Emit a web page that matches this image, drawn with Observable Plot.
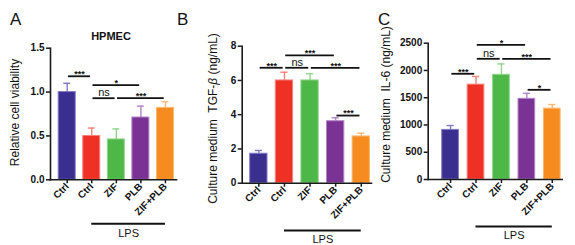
<!DOCTYPE html>
<html><head><meta charset="utf-8">
<script src="https://cdn.jsdelivr.net/npm/d3@7"></script>
<script src="https://cdn.jsdelivr.net/npm/@observablehq/plot@0.6"></script>
<style>
html,body{margin:0;padding:0;background:#fff;}
#wrap{position:relative;width:575px;height:245px;overflow:hidden;font-family:"Liberation Sans",Arial,sans-serif;}
#wrap > svg{position:absolute;left:0;top:0;}
</style></head><body><div id="wrap"></div>
<script>
// ---- data ----
const categories = ["Ctrl", "LPS+Ctrl", "LPS+ZIF", "LPS+PLB", "LPS+ZIF+PLB"];
const tickLabels = ["Ctrl", "Ctrl", "ZIF", "PLB", "ZIF+PLB"];
const lpsGroups = ["LPS+Ctrl", "LPS+ZIF", "LPS+PLB", "LPS+ZIF+PLB"];
const lpsLabel = "LPS";

const viabilityMean  = [1.00, 0.50, 0.46, 0.71, 0.82];
const viabilityUpper = [1.10, 0.59, 0.58, 0.84, 0.89];
const viabilityTicks = [0, 0.5, 1.0, 1.5];

const tgfMean  = [1.72, 6.00, 6.00, 3.62, 2.73];
const tgfUpper = [1.91, 6.48, 6.39, 3.82, 2.92];
const tgfTicks = [0, 2, 4, 6, 8];

const il6Mean  = [910, 1740, 1920, 1480, 1300];
const il6Upper = [990, 1890, 2120, 1580, 1375];
const il6Ticks = [0, 500, 1000, 1500, 2000, 2500];

const sigA = [
  {from: "Ctrl", to: "LPS+Ctrl", level: 1.18, label: "***"},
  {from: "LPS+Ctrl", to: "LPS+PLB", level: 1.08, label: "*"},
  {from: "LPS+Ctrl", to: "LPS+ZIF", level: 0.93, label: "ns"},
  {from: "LPS+ZIF", to: "LPS+ZIF+PLB", level: 0.93, label: "***"}
];
const sigB = [
  {from: "Ctrl", to: "LPS+Ctrl", level: 6.74, label: "***"},
  {from: "LPS+Ctrl", to: "LPS+ZIF", level: 6.74, label: "ns"},
  {from: "LPS+Ctrl", to: "LPS+PLB", level: 7.46, label: "***"},
  {from: "LPS+ZIF", to: "LPS+ZIF+PLB", level: 6.74, label: "***"},
  {from: "LPS+PLB", to: "LPS+ZIF+PLB", level: 3.95, label: "***"}
];
const sigC = [
  {from: "Ctrl", to: "LPS+Ctrl", level: 1939, label: "***"},
  {from: "LPS+Ctrl", to: "LPS+ZIF", level: 2214, label: "ns"},
  {from: "LPS+Ctrl", to: "LPS+PLB", level: 2471, label: "*"},
  {from: "LPS+ZIF", to: "LPS+ZIF+PLB", level: 2214, label: "***"},
  {from: "LPS+PLB", to: "LPS+ZIF+PLB", level: 1645, label: "*"}
];

const panelLetters = ["A", "B", "C"];
const titleA = "HPMEC";
const yLabelA = "Relative cell viability";
const yLabelB = ["Culture medium  TGF-", "\u03B2", " (ng/mL)"];
const yLabelC = "Culture medium  IL-6 (ng/mL)";

// ---- styles ----
const barFill = ["#3A2E8F", "#EE3124", "#4DB748", "#7A3394", "#F68B1F"];
const barEdge = ["#8079C4", "#F4827A", "#8FD48B", "#B184C6", "#FAB872"];
const FONT = "Liberation Sans, Arial, sans-serif";
const W = 575, H = 245;

const panels = [
  {mean: viabilityMean, upper: viabilityUpper, sig: sigA, yDomain: [0, 1.5], yTicks: viabilityTicks, fmt: d3.format(".1f"),
   left: 50, right: 176, top: 47.7, bottom: 179.3, xDomain: [-0.68, 4.45], half: 0.346, lpsDy: 44, lpsTextDy: 53.5},
  {mean: tgfMean, upper: tgfUpper, sig: sigB, yDomain: [0, 8], yTicks: tgfTicks, fmt: d3.format("d"),
   left: 241.7, right: 371, top: 45.7, bottom: 182.7, xDomain: [-0.65, 4.40], half: 0.338, lpsDy: 47.3, lpsTextDy: 56},
  {mean: il6Mean, upper: il6Upper, sig: sigC, yDomain: [0, 2500], yTicks: il6Ticks, fmt: d3.format("d"),
   left: 427.7, right: 561.7, top: 42.7, bottom: 179, xDomain: [-0.88, 4.39], half: 0.328, lpsDy: 47, lpsTextDy: 56}
];

function draw(p) {
  const rows = categories.map((c, i) => ({i, cat: c, mean: p.mean[i], upper: p.upper[i], fill: barFill[i], edge: barEdge[i]}));
  const idx = (c) => categories.indexOf(c);
  const sig = p.sig.map((s) => ({...s, a: idx(s.from), b: idx(s.to)}));
  const lps = [{a: idx(lpsGroups[0]), b: idx(lpsGroups[lpsGroups.length - 1]), label: lpsLabel}];
  const capHalf = 0.14, gap = 0.05;
  return Plot.plot({
    width: W, height: H,
    marginLeft: p.left, marginRight: W - p.right, marginTop: p.top, marginBottom: H - p.bottom,
    x: {type: "linear", domain: p.xDomain, axis: null},
    y: {domain: p.yDomain, axis: null},
    color: {type: "identity"},
    style: {background: "transparent", fontFamily: FONT, overflow: "visible", color: "#111"},
    marks: [
      Plot.rectY(rows, {x1: (d) => d.i - p.half, x2: (d) => d.i + p.half, y1: 0, y2: "mean", fill: "fill", stroke: "edge", strokeWidth: 1}),
      Plot.ruleX(rows, {x: "i", y1: "mean", y2: "upper", stroke: "edge", strokeWidth: 1.4}),
      Plot.ruleY(rows, {y: "upper", x1: (d) => d.i - capHalf, x2: (d) => d.i + capHalf, stroke: "edge", strokeWidth: 1.4}),
      Plot.frame({anchor: "left", stroke: "#1a1a1a", strokeWidth: 1.6}),
      Plot.frame({anchor: "bottom", stroke: "#1a1a1a", strokeWidth: 1.6}),
      Plot.axisY({ticks: p.yTicks, tickFormat: p.fmt, tickSize: 4, tickPadding: 2, fontSize: 10, fontWeight: "bold", label: null, strokeWidth: 1.5, stroke: "#1a1a1a"}),
      Plot.axisX({ticks: rows.map((d) => d.i), tickFormat: (i) => tickLabels[i], tickRotate: -45, tickSize: 4, tickPadding: 1, fontSize: 10, fontWeight: "bold", label: null, strokeWidth: 1.5, stroke: "#1a1a1a"}),
      Plot.ruleY(sig, {y: "level", x1: (d) => d.a + gap, x2: (d) => d.b - gap, strokeWidth: 1.8, stroke: "#111"}),
      Plot.text(sig.filter((d) => d.label !== "ns"), {x: (d) => (d.a + d.b) / 2, y: "level", text: "label", fontSize: 9, fontWeight: "bold", lineAnchor: "middle", dy: -2}),
      Plot.text(sig.filter((d) => d.label === "ns"), {x: (d) => (d.a + d.b) / 2, y: "level", text: "label", fontSize: 11, lineAnchor: "middle", dy: -5.5}),
      Plot.ruleY(lps, {y: 0, x1: "a", x2: "b", dy: p.lpsDy, strokeWidth: 2, stroke: "#111"}),
      Plot.text(lps, {x: (d) => (d.a + d.b) / 2, y: 0, text: "label", dy: p.lpsTextDy, fontSize: 11, lineAnchor: "middle"})
    ]
  });
}

const wrap = document.getElementById("wrap");
panels.forEach((p) => wrap.appendChild(draw(p)));

// overlay text (panel letters, title, y labels)
const NS = "http://www.w3.org/2000/svg";
const ov = document.createElementNS(NS, "svg");
ov.setAttribute("width", W); ov.setAttribute("height", H);
ov.setAttribute("font-family", FONT);
ov.style.position = "absolute"; ov.style.left = "0"; ov.style.top = "0";
function txt(str, attrs) {
  const t = document.createElementNS(NS, "text");
  for (const k in attrs) t.setAttribute(k, attrs[k]);
  t.style.whiteSpace = "pre";
  if (str != null) t.textContent = str;
  ov.appendChild(t);
  return t;
}
const letterPos = [[10, 25], [177, 25], [378, 25]];
panelLetters.forEach((L, i) => txt(L, {x: letterPos[i][0], y: letterPos[i][1], "font-size": 17, fill: "#111"}));
txt(titleA, {x: 111, y: 40, "font-size": 11, "font-weight": "bold", "text-anchor": "middle", fill: "#111"});
txt(yLabelA, {transform: "translate(19,112.5) rotate(-90)", "font-size": 12, "text-anchor": "middle", fill: "#111"});
const tb = txt(null, {transform: "translate(216.5,118.5) rotate(-90)", "font-size": 12, "text-anchor": "middle", fill: "#111"});
yLabelB.forEach((s, i) => {
  const sp = document.createElementNS(NS, "tspan");
  sp.textContent = s;
  if (i === 1) sp.setAttribute("font-style", "italic");
  tb.appendChild(sp);
});
txt(yLabelC, {transform: "translate(389.5,104.5) rotate(-90)", "font-size": 12, "text-anchor": "middle", fill: "#111"});
wrap.appendChild(ov);
</script>
</body></html>
